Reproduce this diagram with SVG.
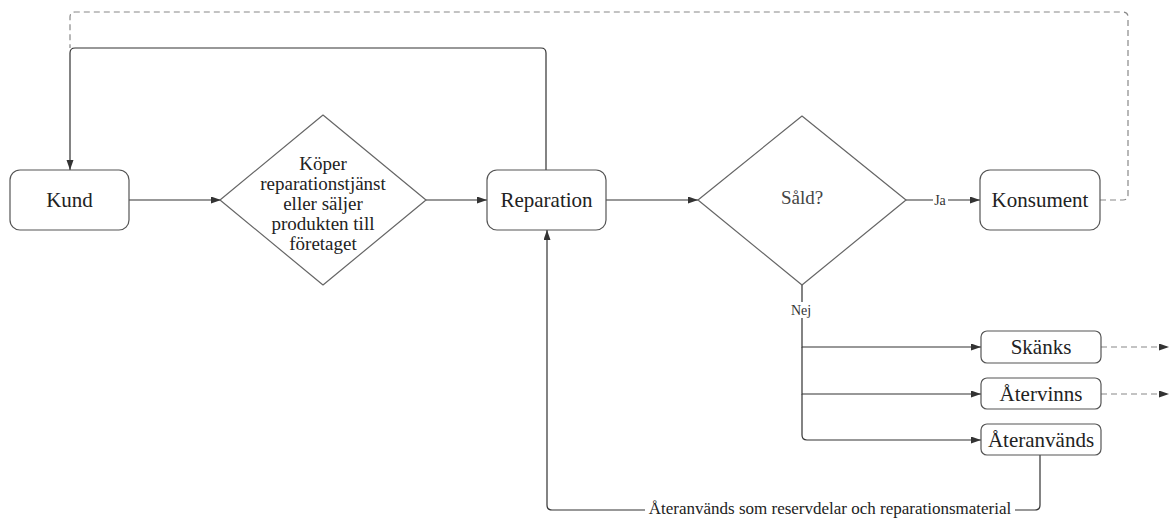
<svg xmlns="http://www.w3.org/2000/svg" width="1169" height="518" viewBox="0 0 1169 518">
<style>
.box{fill:#fff;stroke:#555;stroke-width:1.2}
.dia{fill:#fff;stroke:#666;stroke-width:1.2}
.t{font-family:"Liberation Serif",serif;font-size:21px;fill:#222;text-anchor:middle}
.dt{font-size:19px}
.lbl{font-family:"Liberation Serif",serif;font-size:14px;fill:#333;text-anchor:middle}
.c{fill:none;stroke:#333;stroke-width:1.2}
.d{fill:none;stroke:#888;stroke-width:1.2;stroke-dasharray:6 4}
.bg{fill:#fff}
</style>
<defs>
<marker id="a" markerWidth="11" markerHeight="8" refX="10" refY="3.5" orient="auto" markerUnits="userSpaceOnUse"><path d="M0,0 L10,3.5 L0,7 z" fill="#333"/></marker>
</defs>
<g id="connectors">
<path class="d" d="M1100,200 H1123 Q1128,200 1128,195 V17 Q1128,12 1123,12 H75 Q70,12 70,17 V48"/>
<path class="c" d="M129,200 H221" marker-end="url(#a)"/>
<path class="c" d="M426,200 H487" marker-end="url(#a)"/>
<path class="c" d="M546,170 V53 Q546,48 541,48 H75 Q70,48 70,53 V170" marker-end="url(#a)"/>
<path class="c" d="M606,200 H698" marker-end="url(#a)"/>
<path class="c" d="M906,200 H980" stroke="#888" marker-end="url(#a)"/>
<path class="c" d="M802,285 V347 H981" marker-end="url(#a)"/>
<path class="c" d="M802,347 V394 H981" marker-end="url(#a)"/>
<path class="c" d="M802,394 V435 Q802,440 807,440 H981" marker-end="url(#a)"/>
<path class="d" d="M1101,347 H1169" marker-end="url(#a)"/>
<path class="d" d="M1101,394 H1169" marker-end="url(#a)"/>
<path class="c" d="M1040,455 V505 Q1040,510 1035,510 H552 Q547,510 547,505 V230" marker-end="url(#a)"/>
<rect class="bg" x="933" y="192" width="15" height="16"/>
<text class="lbl" x="940" y="205">Ja</text>
<rect class="bg" x="788" y="302" width="28" height="16"/>
<text class="lbl" x="801" y="315">Nej</text>
<rect class="bg" x="645" y="501" width="370" height="17"/>
<text class="t" x="830" y="514" style="font-size:17px">Återanvänds som reservdelar och reparationsmaterial</text>
</g>
<g id="kund"><rect class="box" x="10" y="170" width="119" height="60" rx="10"/><text class="t" x="69.5" y="207">Kund</text></g>
<g id="beslut"><path class="dia" d="M323,115 L426,200 L323,285 L220,200 Z" stroke-linejoin="round"/>
<text class="t dt" x="323" y="170">Köper</text>
<text class="t dt" x="323" y="190">reparationstjänst</text>
<text class="t dt" x="323" y="210">eller säljer</text>
<text class="t dt" x="323" y="230">produkten till</text>
<text class="t dt" x="323" y="250">företaget</text></g>
<g id="reparation"><rect class="box" x="487" y="170" width="119" height="60" rx="10"/><text class="t" x="546.5" y="207">Reparation</text></g>
<g id="sald"><path class="dia" d="M802,116 L906,200 L802,285 L698,200 Z" stroke-linejoin="round"/><text class="t dt" x="802" y="204" style="fill:#444">Såld?</text></g>
<g id="konsument"><rect class="box" x="980" y="170" width="120" height="60" rx="10"/><text class="t" x="1040" y="207">Konsument</text></g>
<g id="skanks"><rect class="box" x="981" y="331" width="120" height="32" rx="6"/><text class="t" x="1041" y="354">Skänks</text></g>
<g id="atervinns"><rect class="box" x="981" y="378" width="120" height="31" rx="6"/><text class="t" x="1041" y="401">Återvinns</text></g>
<g id="ateranvands"><rect class="box" x="981" y="424" width="120" height="31" rx="6"/><text class="t" x="1041" y="447">Återanvänds</text></g>
</svg>
